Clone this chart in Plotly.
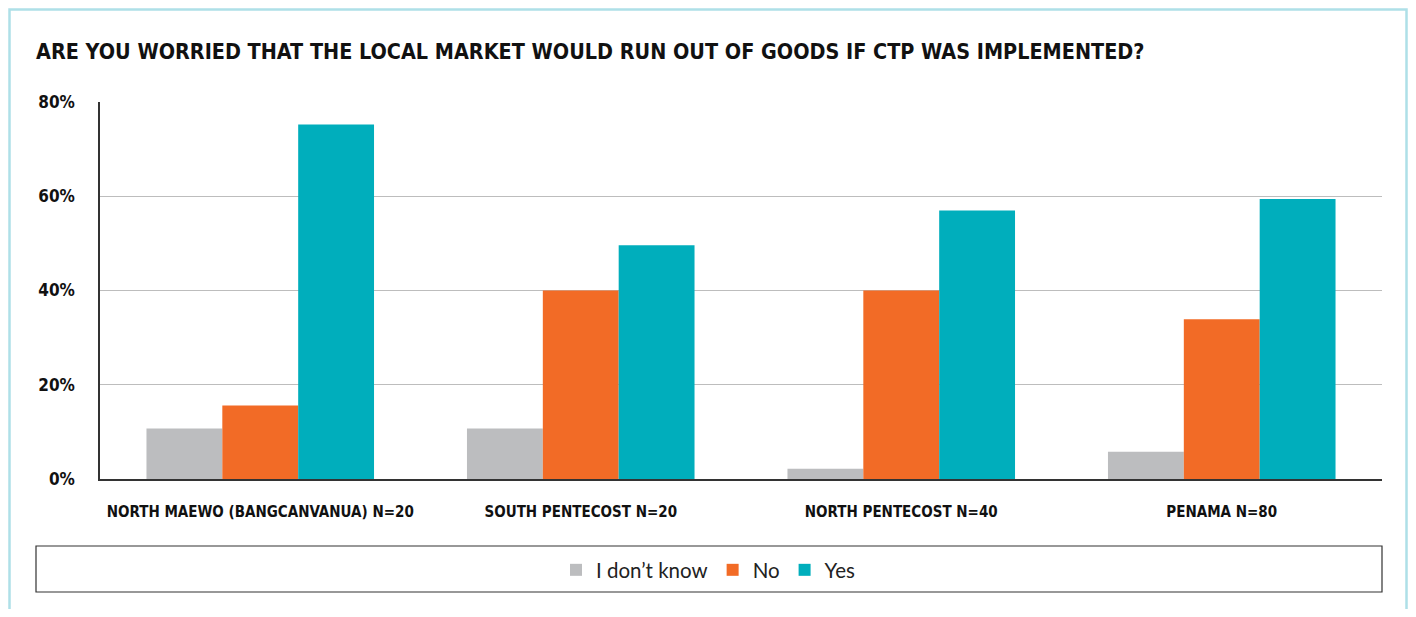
import plotly.graph_objects as go

categories = ["NORTH MAEWO (BANGCANVANUA) N=20", "SOUTH PENTECOST N=20",
              "NORTH PENTECOST N=40", "PENAMA N=80"]
dont_know = [10.7, 10.7, 2.2, 5.8]
no_vals = [15.6, 40.0, 40.0, 33.9]
yes_vals = [75.2, 49.6, 57.0, 59.4]
series_names = ["I don’t know", "No", "Yes"]
colors = ["#BCBDBF", "#F26B26", "#00AEBC"]
y_ticks = [0, 20, 40, 60, 80]
y_tick_labels = ["0%", "20%", "40%", "60%", "80%"]

OFF = 8  # page body margin
W, H = 1416 - 2 * OFF, 617 - 2 * OFF
# page coordinates of plot area
PL, PR, PT, PB = 100, 1382, 102, 479
L, T = PL - OFF, PT - OFF
R = W - (PR - OFF)
B = H - (PB - OFF)
pw = W - L - R
ph = H - T - B

def px(x):
    return (x - PL) / pw

def py(y):
    return (PB - y) / ph

fig = go.Figure()
for name, vals, col in zip(series_names, [dont_know, no_vals, yes_vals], colors):
    fig.add_trace(go.Bar(x=categories, y=vals, name=name, marker_color=col,
                         marker_line_width=0))

cond = "DejaVu Sans Condensed, Liberation Sans Narrow, Roboto, sans-serif"
fig.update_layout(
    width=W, height=H,
    margin=dict(l=L, r=R, t=T, b=B, autoexpand=False),
    paper_bgcolor="white", plot_bgcolor="white",
    barmode="group", bargap=0.29, bargroupgap=0,
    title=dict(text="<b>ARE YOU WORRIED THAT THE LOCAL MARKET WOULD RUN OUT OF GOODS IF CTP WAS IMPLEMENTED?</b>",
               font=dict(family=cond, size=21.4, color="#111"),
               x=(36 - OFF) / W, xanchor="left", xref="container",
               y=1 - (52 - OFF) / H, yanchor="middle", yref="container"),
    showlegend=True,
    legend=dict(orientation="h", x=px(708), xanchor="center", y=py(570), yanchor="middle",
                xref="paper", yref="paper",
                font=dict(family="Lato", size=20.5, color="#222"),
                bgcolor="rgba(0,0,0,0)", borderwidth=0, itemwidth=30,
                traceorder="normal"),
    xaxis=dict(showgrid=False, showline=True, linecolor="#333", linewidth=1.5,
               ticks="", tickfont=dict(family=cond, size=15, color="#111"),
               ticklabelstandoff=18),
    yaxis=dict(range=[0, 80], tickvals=y_ticks, ticktext=["<b>%s</b>" % t for t in y_tick_labels],
               showgrid=True, gridcolor="#BDBDBD", gridwidth=1,
               showline=True, linecolor="#333", linewidth=1.5, zeroline=False,
               ticks="", tickfont=dict(family=cond, size=17, color="#111"),
               ticklabelstandoff=20),
)
fig.update_xaxes(ticktext=["<b>%s</b>" % c for c in categories], tickvals=categories)

# outer frame (kept just inside the figure)
fig.add_shape(type="rect", xref="paper", yref="paper",
              x0=px(OFF + 1.5), x1=px(OFF + W - 1.5), y0=py(640), y1=py(OFF + 1.5),
              line=dict(color="#AEE0E8", width=2.5), fillcolor="rgba(0,0,0,0)", layer="below")
# legend box
fig.add_shape(type="rect", xref="paper", yref="paper",
              x0=px(36), x1=px(1382), y0=py(592), y1=py(546),
              line=dict(color="#333", width=1.2), fillcolor="rgba(0,0,0,0)")

fig.write_html("out.html")
